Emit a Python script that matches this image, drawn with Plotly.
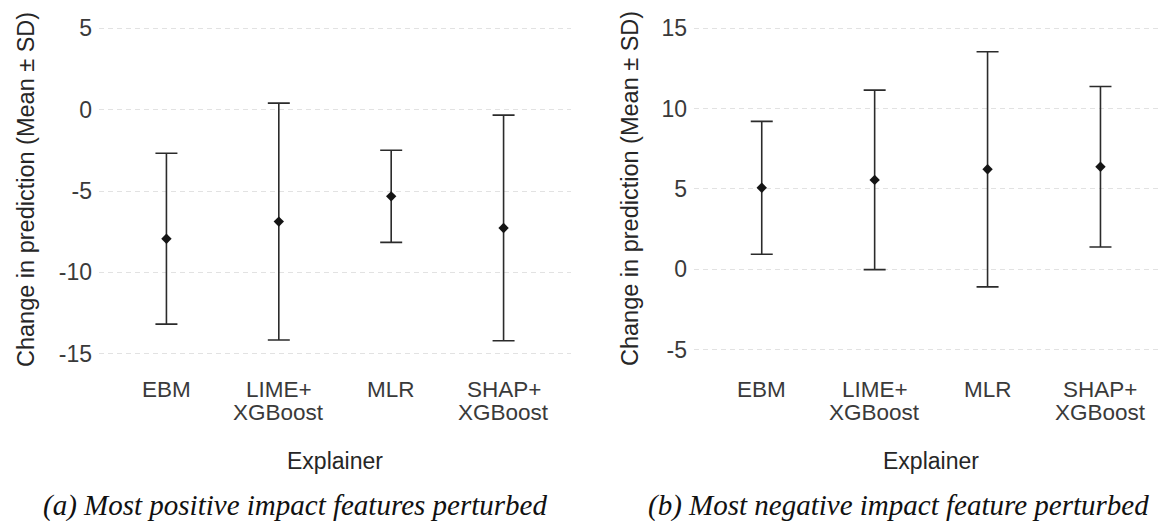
import plotly.graph_objects as go

# ---- data ----
explainers = ["EBM", "LIME+\nXGBoost", "MLR", "SHAP+\nXGBoost"]
pos_mean = [-7.93, -6.88, -5.33, -7.27]
pos_sd = [5.25, 7.28, 2.83, 6.93]
neg_mean = [5.07, 5.56, 6.22, 6.38]
neg_sd = [4.13, 5.58, 7.31, 4.99]
ticks_a = [5, 0, -5, -10, -15]
ticks_b = [15, 10, 5, 0, -5]
caption_a = "(a) Most positive impact features perturbed"
caption_b = "(b) Most negative impact feature perturbed"
y_title = "Change in prediction (Mean ± SD)"
x_title = "Explainer"

W, H = 1162, 521
def py(px):
    return (H - px) / H
def pxx(px):
    return px / W

SANS = "Liberation Sans"
SERIF = "Liberation Serif"
TICK_C = "#3a3a3a"
TITLE_C = "#262626"

def lab(v):
    return str(v).replace("-", "\u2010")

fig = go.Figure()

for i, (m, s) in enumerate([(pos_mean, pos_sd), (neg_mean, neg_sd)]):
    xa = "x" if i == 0 else "x2"
    ya = "y" if i == 0 else "y2"
    fig.add_trace(go.Scatter(
        x=explainers, y=m, mode="markers",
        marker=dict(symbol="diamond", size=8, color="#151515"),
        error_y=dict(type="data", array=s, visible=True, color="#2b2b2b",
                     thickness=1.6, width=11),
        xaxis=xa, yaxis=ya, showlegend=False, hoverinfo="skip",
    ))

common_y = dict(showgrid=True, gridcolor="#e2e2e2", gridwidth=1, griddash="5px,4px",
                zeroline=False, showline=False, ticks="", ticklabelstandoff=6,
                tickfont=dict(family=SANS, size=23, color=TICK_C))
common_x = dict(type="category", showgrid=False, zeroline=False, showline=False,
                showticklabels=False, ticks="")

fig.update_layout(
    width=W, height=H,
    margin=dict(l=0, r=0, t=0, b=0),
    paper_bgcolor="white", plot_bgcolor="white",
    xaxis=dict(domain=[pxx(99), pxx(571)], range=[-0.6, 3.6], anchor="y", **common_x),
    xaxis2=dict(domain=[pxx(694), 1.0], range=[-0.6, 3.545], anchor="y2", **common_x),
    yaxis=dict(domain=[py(370), py(12)], range=[-16, 6], tickvals=ticks_a,
               ticktext=[lab(t) for t in ticks_a], anchor="x", **common_y),
    yaxis2=dict(domain=[py(365.8), py(12)], range=[-6, 16], tickvals=ticks_b,
                ticktext=[lab(t) for t in ticks_b], anchor="x2", **common_y),
)

ann = []
for xr in ["x", "x2"]:
    for name in explainers:
        lines = name.split("\n")
        for j, line in enumerate(lines):
            ann.append(dict(x=name, xref=xr, y=py(389 + 23 * j), yref="paper",
                            text=line, showarrow=False, xanchor="center", yanchor="middle",
                            font=dict(family=SANS, size=22.5, color=TICK_C)))

# axis titles
for cx in [335, 931]:
    ann.append(dict(x=pxx(cx), xref="paper", y=py(461), yref="paper", text=x_title,
                    showarrow=False, xanchor="center", yanchor="middle",
                    font=dict(family=SANS, size=23, color=TITLE_C)))
for cx, cy in [(26, 190), (630, 189)]:
    ann.append(dict(x=pxx(cx), xref="paper", y=py(cy), yref="paper", text=y_title,
                    textangle=-90, showarrow=False, xanchor="center", yanchor="middle",
                    font=dict(family=SANS, size=23.5, color=TITLE_C)))

# captions
for cx, txt in [(295, caption_a), (898, caption_b)]:
    ann.append(dict(x=pxx(cx), xref="paper", y=py(505), yref="paper",
                    text="<i>" + txt + "</i>", showarrow=False,
                    xanchor="center", yanchor="middle",
                    font=dict(family=SERIF, size=29, color="#111111")))

fig.update_layout(annotations=ann)
fig.write_html("out.html", config={"displayModeBar": False},
               post_script="document.body.style.margin='0px';document.body.style.overflow='hidden';")
